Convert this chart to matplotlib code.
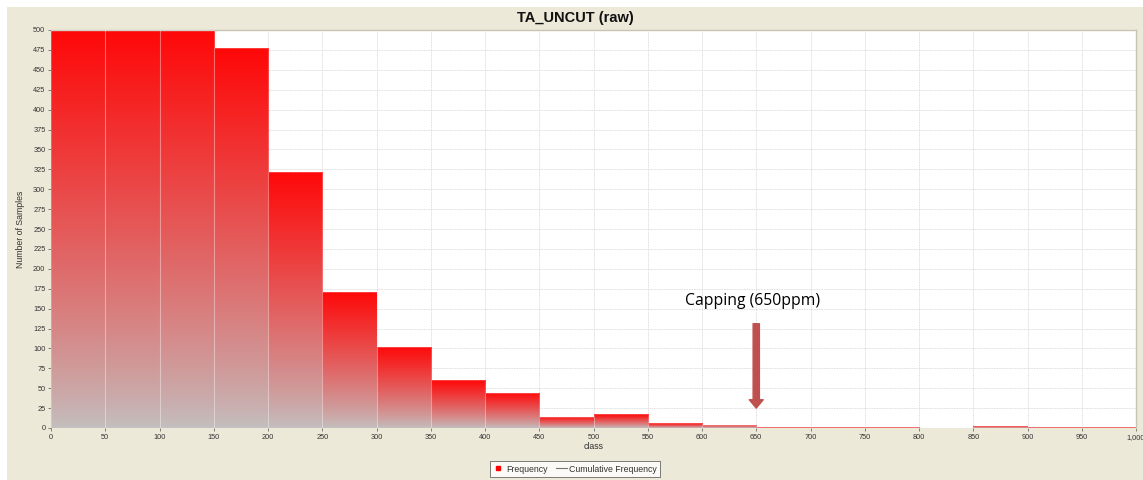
import numpy as np
import matplotlib
matplotlib.use('Agg')
import matplotlib.pyplot as plt
from matplotlib.lines import Line2D
from matplotlib.patches import Rectangle

# histogram of TA_UNCUT (raw), 50 ppm classes
class_edges = [0, 50, 100, 150, 200, 250, 300, 350, 400, 450, 500,
               550, 600, 650, 700, 750, 800, 850, 900, 950, 1000]
counts = [500, 500, 500, 477, 322, 171, 102, 60, 44, 14,
          17, 6, 4, 1, 1, 1, 0, 2, 1, 1]
y_ticks = list(range(0, 501, 25))
x_ticks = list(range(0, 1001, 50))
x_tick_labels = [str(v) for v in x_ticks[:-1]] + ['1,000']
cap_value = 650

beige = '#ece9d8'
top_red = np.array([255, 8, 8]) / 255.0
bottom_grey = np.array([196, 191, 191]) / 255.0

plt.rcParams['font.family'] = ['Liberation Sans', 'DejaVu Sans']

fig = plt.figure(figsize=(11.43, 4.8), dpi=100, facecolor='white')
fig.patches.append(Rectangle((7 / 1143, 0), 1, 473 / 480, transform=fig.transFigure,
                             facecolor=beige, edgecolor='none', zorder=-10))

ax = fig.add_axes([51 / 1143, 52 / 480, 1085 / 1143, 398 / 480])
ax.set_facecolor('white')
ax.set_axisbelow(True)
ax.grid(True, color='#cfcfcf', linestyle=(0, (2, 1)), linewidth=0.6, alpha=0.7, zorder=0)

bars = ax.bar(class_edges[:-1], counts, width=50, align='edge',
              color='none', edgecolor='none', zorder=2)

# vertical red -> grey gradient inside every bar
t = np.linspace(0, 1, 256) ** 0.85
grad = bottom_grey[None, :] + (top_red - bottom_grey)[None, :] * t[:, None]
grad = grad[:, None, :]
for patch, h in zip(bars.patches, counts):
    if h <= 0:
        continue
    x0 = patch.get_x()
    im = ax.imshow(grad, extent=(x0, x0 + patch.get_width(), 0, h), origin='lower',
                   aspect='auto', interpolation='bilinear', zorder=2)
    im.set_clip_path(patch)

# faint light seams between neighbouring bars
ax.bar(class_edges[:-1], counts, width=50, align='edge', color='none',
       edgecolor=(1, 1, 1, 0.22), linewidth=0.8, zorder=3)

ax.set_xlim(class_edges[0], class_edges[-1])
ax.set_ylim(0, 500)
ax.set_xticks(x_ticks)
ax.set_xticklabels(x_tick_labels)
ax.set_yticks(y_ticks)
ax.tick_params(labelsize=5.3, colors='#555555', length=2, width=0.5, pad=2)
for lab in ax.get_xticklabels() + ax.get_yticklabels():
    lab.set_color('#333333')

for side in ['left', 'bottom']:
    ax.spines[side].set_visible(False)
for side in ['top', 'right']:
    ax.spines[side].set_color('#c8c4b4')
    ax.spines[side].set_linewidth(1.0)

ax.set_xlabel('class', fontsize=6.3, color='#333333', labelpad=1)
ax.set_ylabel('Number of Samples', fontsize=6.3, color='#333333', labelpad=6)

fig.text(575 / 1143, 462 / 480, 'TA_UNCUT (raw)', ha='center', va='center',
         fontsize=10.5, fontweight='bold', color='#111111')

# capping marker
ax.annotate('', xy=(cap_value, 25), xytext=(cap_value, 131),
            arrowprops=dict(arrowstyle='simple,head_length=0.6,head_width=1.0,tail_width=0.45',
                            mutation_scale=10, color='#c0504d', shrinkA=0, shrinkB=0),
            zorder=5)
ax.text(cap_value - 3, 159, 'Capping (650ppm)', ha='center', va='center',
        fontsize=11.3, family=['Open Sans', 'DejaVu Sans'], color='black', zorder=5)

handles = [Line2D([], [], marker='s', markersize=2.5, color='#ff0000', linestyle='none'),
           Line2D([], [], color='#777777', linewidth=0.8)]
leg = fig.legend(handles, ['Frequency', 'Cumulative Frequency'], loc='center',
                 bbox_to_anchor=(575 / 1143, 11 / 480), ncol=2, fontsize=6.3,
                 frameon=True, fancybox=False, handlelength=1.2, handletextpad=0.3,
                 columnspacing=1.0, borderpad=0.35, labelcolor='#333333')
leg.get_frame().set_edgecolor('#444444')
leg.get_frame().set_facecolor('white')
leg.get_frame().set_linewidth(0.6)

fig.savefig('out.png', dpi=100, facecolor=fig.get_facecolor())
